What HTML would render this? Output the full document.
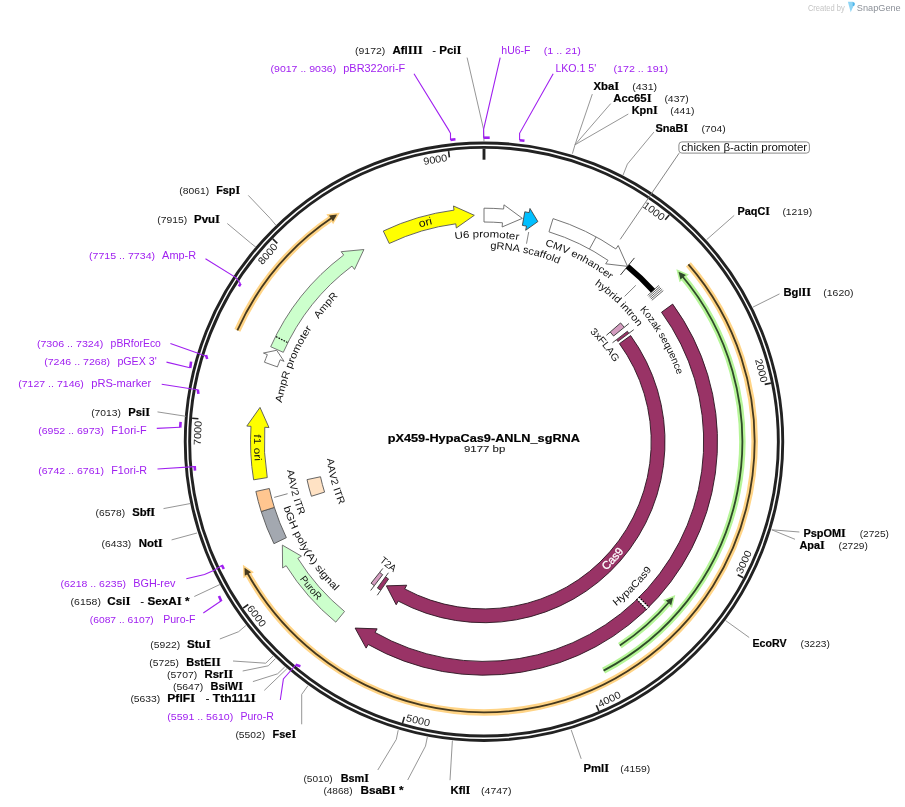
<!DOCTYPE html>
<html><head><meta charset="utf-8"><style>
html,body{margin:0;padding:0;background:#fff;}
svg{display:block;font-family:"Liberation Sans", sans-serif;will-change:transform;}
</style></head><body>
<svg width="905" height="807" viewBox="0 0 905 807">
<defs></defs>
<path d="M237.35,330.39 A270.6,270.6 0 0 1 333.41,216.87" fill="none" stroke="#ffd486" stroke-width="6.5" stroke-linecap="butt"/>
<path d="M337.02,214.50 L328.99,215.52 L333.06,221.46 Z" fill="#ffd486" stroke="#ffd486" stroke-width="3" stroke-linejoin="miter"/>
<path d="M237.35,330.39 A270.6,270.6 0 0 1 333.41,216.87" fill="none" stroke="#45391f" stroke-width="1.8"/>
<path d="M337.02,214.50 L328.99,215.52 L333.06,221.46 Z" fill="#45391f"/>
<path d="M688.40,264.38 A270.6,270.6 0 1 1 246.54,571.46" fill="none" stroke="#ffd486" stroke-width="6.5" stroke-linecap="butt"/>
<path d="M244.50,567.65 L244.79,575.74 L251.07,572.22 Z" fill="#ffd486" stroke="#ffd486" stroke-width="3" stroke-linejoin="miter"/>
<path d="M688.40,264.38 A270.6,270.6 0 1 1 246.54,571.46" fill="none" stroke="#45391f" stroke-width="1.8"/>
<path d="M244.50,567.65 L244.79,575.74 L251.07,572.22 Z" fill="#45391f"/>
<path d="M681.33,275.02 A258.3,258.3 0 0 1 603.58,670.65" fill="none" stroke="#b6f598" stroke-width="6.5" stroke-linecap="butt"/>
<path d="M678.51,271.75 L685.95,274.94 L680.40,279.53 Z" fill="#b6f598" stroke="#b6f598" stroke-width="3" stroke-linejoin="miter"/>
<path d="M681.33,275.02 A258.3,258.3 0 0 1 603.58,670.65" fill="none" stroke="#2f4a2a" stroke-width="1.8"/>
<path d="M678.51,271.75 L685.95,274.94 L680.40,279.53 Z" fill="#2f4a2a"/>
<path d="M670.34,600.76 A245.0,245.0 0 0 1 619.82,645.61" fill="none" stroke="#b6f598" stroke-width="6.5" stroke-linecap="butt"/>
<path d="M673.12,597.45 L671.17,605.31 L665.75,600.57 Z" fill="#b6f598" stroke="#b6f598" stroke-width="3" stroke-linejoin="miter"/>
<path d="M670.34,600.76 A245.0,245.0 0 0 1 619.82,645.61" fill="none" stroke="#2f4a2a" stroke-width="1.8"/>
<path d="M673.12,597.45 L671.17,605.31 L665.75,600.57 Z" fill="#2f4a2a"/>
<circle cx="484.0" cy="441.7" r="298.75" fill="none" stroke="#222" stroke-width="2.9"/>
<circle cx="484.0" cy="441.7" r="294.35" fill="none" stroke="#222" stroke-width="2.9"/>
<line x1="484.00" y1="148.70" x2="484.00" y2="159.70" stroke="#222" stroke-width="2.9"/>
<line x1="669.17" y1="214.89" x2="665.19" y2="219.77" stroke="#222" stroke-width="1.6"/>
<text x="653.87" y="211.11" transform="rotate(36.38 653.87 211.11)" text-anchor="middle" dominant-baseline="central" font-size="10.2" textLength="24.2" lengthAdjust="spacingAndGlyphs" fill="#222">1000</text>
<line x1="770.88" y1="383.11" x2="764.71" y2="384.37" stroke="#222" stroke-width="1.6"/>
<text x="761.41" y="370.51" transform="rotate(75.61 761.41 370.51)" text-anchor="middle" dominant-baseline="central" font-size="10.2" textLength="24.2" lengthAdjust="spacingAndGlyphs" fill="#222">2000</text>
<line x1="743.28" y1="577.74" x2="737.70" y2="574.81" stroke="#222" stroke-width="1.6"/>
<text x="743.91" y="561.99" transform="rotate(-65.16 743.91 561.99)" text-anchor="middle" dominant-baseline="central" font-size="10.2" textLength="24.2" lengthAdjust="spacingAndGlyphs" fill="#222">3000</text>
<line x1="598.81" y1="711.05" x2="596.34" y2="705.26" stroke="#222" stroke-width="1.6"/>
<text x="609.26" y="699.25" transform="rotate(-25.94 609.26 699.25)" text-anchor="middle" dominant-baseline="central" font-size="10.2" textLength="24.2" lengthAdjust="spacingAndGlyphs" fill="#222">4000</text>
<line x1="402.59" y1="722.96" x2="404.35" y2="716.90" stroke="#222" stroke-width="1.6"/>
<text x="418.15" y="720.43" transform="rotate(13.29 418.15 720.43)" text-anchor="middle" dominant-baseline="central" font-size="10.2" textLength="24.2" lengthAdjust="spacingAndGlyphs" fill="#222">5000</text>
<line x1="243.07" y1="608.09" x2="248.25" y2="604.51" stroke="#222" stroke-width="1.6"/>
<text x="256.72" y="615.97" transform="rotate(52.52 256.72 615.97)" text-anchor="middle" dominant-baseline="central" font-size="10.2" textLength="24.2" lengthAdjust="spacingAndGlyphs" fill="#222">6000</text>
<line x1="192.14" y1="418.22" x2="198.42" y2="418.73" stroke="#222" stroke-width="1.6"/>
<text x="197.73" y="432.96" transform="rotate(-88.25 197.73 432.96)" text-anchor="middle" dominant-baseline="central" font-size="10.2" textLength="24.2" lengthAdjust="spacingAndGlyphs" fill="#222">7000</text>
<line x1="272.77" y1="238.94" x2="277.31" y2="243.30" stroke="#222" stroke-width="1.6"/>
<text x="267.78" y="253.89" transform="rotate(-49.02 267.78 253.89)" text-anchor="middle" dominant-baseline="central" font-size="10.2" textLength="24.2" lengthAdjust="spacingAndGlyphs" fill="#222">8000</text>
<line x1="448.60" y1="151.05" x2="449.37" y2="157.30" stroke="#222" stroke-width="1.6"/>
<text x="435.28" y="159.47" transform="rotate(-9.79 435.28 159.47)" text-anchor="middle" dominant-baseline="central" font-size="10.2" textLength="24.2" lengthAdjust="spacingAndGlyphs" fill="#222">9000</text>
<path d="M383.29,231.03 A233.5,233.5 0 0 1 454.00,210.13 L453.47,205.97 L474.31,215.31 L456.32,227.99 L455.78,223.82 A219.7,219.7 0 0 0 389.24,243.48 Z" fill="#ffff00" stroke="#555" stroke-width="0.9" stroke-linejoin="miter"/>
<path d="M484.00,208.20 A233.5,233.5 0 0 1 503.62,209.03 L503.97,204.84 L522.37,218.37 L502.11,226.96 L502.46,222.78 A219.7,219.7 0 0 0 484.00,222.00 Z" fill="#ffffff" stroke="#666" stroke-width="0.9" stroke-linejoin="miter"/>
<path d="M524.79,211.79 A233.5,233.5 0 0 1 529.15,212.61 L529.97,208.49 L537.86,221.59 L525.67,230.27 L526.49,226.15 A219.7,219.7 0 0 0 522.38,225.38 Z" fill="#00bfff" stroke="#444" stroke-width="0.9" stroke-linejoin="miter"/>
<path d="M553.05,218.64 A233.5,233.5 0 0 1 615.82,248.97 L618.19,245.50 L627.52,266.35 L605.66,263.82 L608.03,260.36 A219.7,219.7 0 0 0 548.97,231.83 Z" fill="#ffffff" stroke="#666" stroke-width="0.9" stroke-linejoin="miter"/>
<line x1="596.13" y1="236.89" x2="589.51" y2="248.99" stroke="#666" stroke-width="0.9"/>
<path d="M627.52,266.35 A226.6,226.6 0 0 1 653.19,290.96" fill="none" stroke="#000" stroke-width="5.6"/>
<line x1="620.49" y1="274.94" x2="634.43" y2="257.91" stroke="#222" stroke-width="0.9"/>
<line x1="647.63" y1="295.40" x2="658.81" y2="285.40" stroke="#333" stroke-width="0.75"/>
<line x1="648.70" y1="296.60" x2="659.96" y2="286.68" stroke="#333" stroke-width="0.75"/>
<line x1="649.76" y1="297.81" x2="661.09" y2="287.98" stroke="#333" stroke-width="0.75"/>
<line x1="650.81" y1="299.03" x2="662.21" y2="289.28" stroke="#333" stroke-width="0.75"/>
<line x1="651.85" y1="300.26" x2="663.32" y2="290.59" stroke="#333" stroke-width="0.75"/>
<path d="M672.67,304.12 A233.5,233.5 0 0 1 368.21,644.47 L366.12,648.11 L355.13,628.09 L377.13,628.84 L375.05,632.48 A219.7,219.7 0 0 0 661.52,312.25 Z" fill="#993366" stroke="#2a1520" stroke-width="0.9" stroke-linejoin="miter"/>
<line x1="637.99" y1="598.40" x2="647.66" y2="608.24" stroke="#fff" stroke-width="3.2"/>
<line x1="638.78" y1="596.91" x2="649.23" y2="607.39" stroke="#000" stroke-width="1.3" stroke-dasharray="1.6,1.2"/>
<line x1="636.49" y1="599.17" x2="646.78" y2="609.80" stroke="#000" stroke-width="1.3" stroke-dasharray="1.6,1.2"/>
<path d="M335.79,622.13 A233.5,233.5 0 0 1 286.15,565.71 L282.60,567.95 L282.37,545.10 L301.41,556.15 L297.85,558.39 A219.7,219.7 0 0 0 344.55,611.47 Z" fill="#ccffcc" stroke="#666" stroke-width="0.9" stroke-linejoin="miter"/>
<path d="M273.95,543.69 A233.5,233.5 0 0 1 261.18,511.53 L274.35,507.40 A219.7,219.7 0 0 0 286.37,537.67 Z" fill="#a3a8b0" stroke="#555" stroke-width="0.9" stroke-linejoin="miter"/>
<path d="M261.18,511.53 A233.5,233.5 0 0 1 255.86,491.44 L269.34,488.50 A219.7,219.7 0 0 0 274.35,507.40 Z" fill="#ffc690" stroke="#555" stroke-width="0.9" stroke-linejoin="miter"/>
<path d="M253.64,479.84 A233.5,233.5 0 0 1 251.01,426.35 L246.81,426.07 L260.01,407.42 L268.97,427.53 L264.78,427.26 A219.7,219.7 0 0 0 267.25,477.58 Z" fill="#ffff00" stroke="#555" stroke-width="0.9" stroke-linejoin="miter"/>
<path d="M264.44,362.22 A233.5,233.5 0 0 1 267.35,354.61 L263.45,353.04 L276.67,350.26 L284.05,361.32 L280.15,359.75 A219.7,219.7 0 0 0 277.42,366.92 Z" fill="#ffffff" stroke="#666" stroke-width="0.9" stroke-linejoin="miter"/>
<path d="M270.69,346.73 A233.5,233.5 0 0 1 343.70,255.05 L341.18,251.69 L363.92,249.53 L354.52,269.44 L351.99,266.08 A219.7,219.7 0 0 0 283.29,352.34 Z" fill="#ccffcc" stroke="#666" stroke-width="0.9" stroke-linejoin="miter"/>
<line x1="287.45" y1="342.42" x2="276.03" y2="336.65" stroke="#111" stroke-width="1.2" stroke-dasharray="1.6,1.2"/>
<path d="M620.60,322.95 A181.0,181.0 0 0 1 624.26,327.30 L613.57,336.02 A167.2,167.2 0 0 0 610.19,332.01 Z" fill="#d49cbf" stroke="#333" stroke-width="0.9" stroke-linejoin="miter"/>
<path d="M627.40,331.26 A181.0,181.0 0 0 1 628.93,333.28 L617.88,341.54 A167.2,167.2 0 0 0 616.47,339.68 Z" fill="#993366" stroke="#333" stroke-width="0.9" stroke-linejoin="miter"/>
<line x1="624.26" y1="327.30" x2="628.91" y2="323.51" stroke="#333" stroke-width="0.9"/>
<line x1="606.41" y1="335.29" x2="610.19" y2="332.01" stroke="#333" stroke-width="0.9"/>
<line x1="628.93" y1="333.28" x2="633.74" y2="329.68" stroke="#333" stroke-width="0.9"/>
<line x1="612.51" y1="342.73" x2="616.47" y2="339.68" stroke="#333" stroke-width="0.9"/>
<path d="M630.62,335.57 A181.0,181.0 0 0 1 398.19,601.07 L396.20,604.76 L386.39,585.87 L406.72,585.22 L404.73,588.92 A167.2,167.2 0 0 0 619.44,343.66 Z" fill="#993366" stroke="#2a1520" stroke-width="0.9" stroke-linejoin="miter"/>
<path d="M380.70,590.33 A181.0,181.0 0 0 1 377.36,587.95 L385.49,576.80 A167.2,167.2 0 0 0 388.58,579.00 Z" fill="#993366" stroke="#333" stroke-width="0.9" stroke-linejoin="miter"/>
<path d="M374.32,585.68 A181.0,181.0 0 0 1 371.08,583.16 L379.69,572.37 A167.2,167.2 0 0 0 382.68,574.70 Z" fill="#d49cbf" stroke="#333" stroke-width="0.9" stroke-linejoin="miter"/>
<line x1="380.70" y1="590.33" x2="377.28" y2="595.25" stroke="#333" stroke-width="0.9"/>
<line x1="388.43" y1="572.76" x2="385.49" y2="576.80" stroke="#333" stroke-width="0.9"/>
<line x1="374.32" y1="585.68" x2="370.68" y2="590.45" stroke="#333" stroke-width="0.9"/>
<line x1="382.81" y1="568.46" x2="379.69" y2="572.37" stroke="#333" stroke-width="0.9"/>
<path d="M311.42,496.28 A181.0,181.0 0 0 1 307.02,479.64 L320.51,476.75 A167.2,167.2 0 0 0 324.58,492.12 Z" fill="#ffe2c4" stroke="#555" stroke-width="0.9" stroke-linejoin="miter"/>
<polyline points="467.10,57.60 483.60,129.40 484.00,142.00" fill="none" stroke="#8a8a8a" stroke-width="0.9"/>
<text x="355.00" y="53.90" font-size="9.5" font-weight="normal" fill="#222" text-anchor="start" textLength="30.30" lengthAdjust="spacingAndGlyphs">(9172)</text>
<text x="392.40" y="53.90" font-size="11.2" font-weight="bold" fill="#000" text-anchor="start" textLength="69.10" lengthAdjust="spacingAndGlyphs" stroke="#000" stroke-width="0.2">Afl<tspan font-family="Liberation Serif" font-size="110%">I</tspan><tspan font-family="Liberation Serif" font-size="110%">I</tspan><tspan font-family="Liberation Serif" font-size="110%">I</tspan>&#160;&#160;&#160;<tspan font-weight="normal" stroke-width="0">-</tspan>&#160;Pci<tspan font-family="Liberation Serif" font-size="110%">I</tspan></text>
<polyline points="248.30,195.40 270.40,218.60 275.90,225.20" fill="none" stroke="#8a8a8a" stroke-width="0.9"/>
<text x="179.30" y="194.30" font-size="9.5" font-weight="normal" fill="#222" text-anchor="start" textLength="29.90" lengthAdjust="spacingAndGlyphs">(8061)</text>
<text x="216.20" y="194.30" font-size="11.2" font-weight="bold" fill="#000" text-anchor="start" textLength="23.90" lengthAdjust="spacingAndGlyphs" stroke="#000" stroke-width="0.2">Fsp<tspan font-family="Liberation Serif" font-size="110%">I</tspan></text>
<polyline points="227.30,223.50 250.50,242.90 256.00,247.30" fill="none" stroke="#8a8a8a" stroke-width="0.9"/>
<text x="157.20" y="223.00" font-size="9.5" font-weight="normal" fill="#222" text-anchor="start" textLength="29.90" lengthAdjust="spacingAndGlyphs">(7915)</text>
<text x="194.10" y="223.00" font-size="11.2" font-weight="bold" fill="#000" text-anchor="start" textLength="25.90" lengthAdjust="spacingAndGlyphs" stroke="#000" stroke-width="0.2">Pvu<tspan font-family="Liberation Serif" font-size="110%">I</tspan></text>
<polyline points="157.50,411.90 186.00,416.30" fill="none" stroke="#8a8a8a" stroke-width="0.9"/>
<text x="91.20" y="416.30" font-size="9.5" font-weight="normal" fill="#222" text-anchor="start" textLength="29.80" lengthAdjust="spacingAndGlyphs">(7013)</text>
<text x="128.30" y="416.30" font-size="11.2" font-weight="bold" fill="#000" text-anchor="start" textLength="21.70" lengthAdjust="spacingAndGlyphs" stroke="#000" stroke-width="0.2">Psi<tspan font-family="Liberation Serif" font-size="110%">I</tspan></text>
<polyline points="163.50,508.60 190.00,503.60" fill="none" stroke="#8a8a8a" stroke-width="0.9"/>
<text x="95.60" y="516.20" font-size="9.5" font-weight="normal" fill="#222" text-anchor="start" textLength="29.50" lengthAdjust="spacingAndGlyphs">(6578)</text>
<text x="132.20" y="516.20" font-size="11.2" font-weight="bold" fill="#000" text-anchor="start" textLength="22.90" lengthAdjust="spacingAndGlyphs" stroke="#000" stroke-width="0.2">Sbf<tspan font-family="Liberation Serif" font-size="110%">I</tspan></text>
<polyline points="171.60,539.90 197.00,533.00" fill="none" stroke="#8a8a8a" stroke-width="0.9"/>
<text x="101.60" y="546.90" font-size="9.5" font-weight="normal" fill="#222" text-anchor="start" textLength="29.70" lengthAdjust="spacingAndGlyphs">(6433)</text>
<text x="138.70" y="546.90" font-size="11.2" font-weight="bold" fill="#000" text-anchor="start" textLength="24.00" lengthAdjust="spacingAndGlyphs" stroke="#000" stroke-width="0.2">Not<tspan font-family="Liberation Serif" font-size="110%">I</tspan></text>
<polyline points="194.30,596.50 220.30,584.30" fill="none" stroke="#8a8a8a" stroke-width="0.9"/>
<text x="70.60" y="605.00" font-size="9.5" font-weight="normal" fill="#222" text-anchor="start" textLength="30.30" lengthAdjust="spacingAndGlyphs">(6158)</text>
<text x="107.30" y="605.00" font-size="11.2" font-weight="bold" fill="#000" text-anchor="start" textLength="82.20" lengthAdjust="spacingAndGlyphs" stroke="#000" stroke-width="0.2">Csi<tspan font-family="Liberation Serif" font-size="110%">I</tspan>&#160;&#160;&#160;<tspan font-weight="normal" stroke-width="0">-</tspan>&#160;SexA<tspan font-family="Liberation Serif" font-size="110%">I</tspan> *</text>
<polyline points="219.80,639.00 238.60,631.70 245.80,625.60" fill="none" stroke="#8a8a8a" stroke-width="0.9"/>
<text x="150.30" y="647.50" font-size="9.5" font-weight="normal" fill="#222" text-anchor="start" textLength="29.90" lengthAdjust="spacingAndGlyphs">(5922)</text>
<text x="187.00" y="647.50" font-size="11.2" font-weight="bold" fill="#000" text-anchor="start" textLength="23.60" lengthAdjust="spacingAndGlyphs" stroke="#000" stroke-width="0.2">Stu<tspan font-family="Liberation Serif" font-size="110%">I</tspan></text>
<polyline points="233.00,661.00 265.70,663.20 273.20,655.90" fill="none" stroke="#8a8a8a" stroke-width="0.9"/>
<text x="149.30" y="665.70" font-size="9.5" font-weight="normal" fill="#222" text-anchor="start" textLength="29.70" lengthAdjust="spacingAndGlyphs">(5725)</text>
<text x="186.30" y="665.70" font-size="11.2" font-weight="bold" fill="#000" text-anchor="start" textLength="34.50" lengthAdjust="spacingAndGlyphs" stroke="#000" stroke-width="0.2">BstE<tspan font-family="Liberation Serif" font-size="110%">I</tspan><tspan font-family="Liberation Serif" font-size="110%">I</tspan></text>
<polyline points="242.70,671.00 268.30,665.80 275.40,658.60" fill="none" stroke="#8a8a8a" stroke-width="0.9"/>
<text x="167.10" y="677.90" font-size="9.5" font-weight="normal" fill="#222" text-anchor="start" textLength="30.10" lengthAdjust="spacingAndGlyphs">(5707)</text>
<text x="204.50" y="677.90" font-size="11.2" font-weight="bold" fill="#000" text-anchor="start" textLength="28.70" lengthAdjust="spacingAndGlyphs" stroke="#000" stroke-width="0.2">Rsr<tspan font-family="Liberation Serif" font-size="110%">I</tspan><tspan font-family="Liberation Serif" font-size="110%">I</tspan></text>
<polyline points="252.90,681.60 277.60,673.80 284.70,667.00" fill="none" stroke="#8a8a8a" stroke-width="0.9"/>
<text x="172.90" y="689.60" font-size="9.5" font-weight="normal" fill="#222" text-anchor="start" textLength="30.40" lengthAdjust="spacingAndGlyphs">(5647)</text>
<text x="210.60" y="689.60" font-size="11.2" font-weight="bold" fill="#000" text-anchor="start" textLength="32.30" lengthAdjust="spacingAndGlyphs" stroke="#000" stroke-width="0.2">BsiW<tspan font-family="Liberation Serif" font-size="110%">I</tspan></text>
<polyline points="264.30,690.40 286.90,668.70" fill="none" stroke="#8a8a8a" stroke-width="0.9"/>
<text x="130.40" y="701.50" font-size="9.5" font-weight="normal" fill="#222" text-anchor="start" textLength="29.90" lengthAdjust="spacingAndGlyphs">(5633)</text>
<text x="167.30" y="701.50" font-size="11.2" font-weight="bold" fill="#000" text-anchor="start" textLength="88.30" lengthAdjust="spacingAndGlyphs" stroke="#000" stroke-width="0.2">PflF<tspan font-family="Liberation Serif" font-size="110%">I</tspan>&#160;&#160;&#160;<tspan font-weight="normal" stroke-width="0">-</tspan>&#160;Tth111<tspan font-family="Liberation Serif" font-size="110%">I</tspan></text>
<polyline points="301.70,724.30 301.70,694.40 308.00,685.60" fill="none" stroke="#8a8a8a" stroke-width="0.9"/>
<text x="235.40" y="737.60" font-size="9.5" font-weight="normal" fill="#222" text-anchor="start" textLength="29.70" lengthAdjust="spacingAndGlyphs">(5502)</text>
<text x="272.50" y="737.60" font-size="11.2" font-weight="bold" fill="#000" text-anchor="start" textLength="23.60" lengthAdjust="spacingAndGlyphs" stroke="#000" stroke-width="0.2">Fse<tspan font-family="Liberation Serif" font-size="110%">I</tspan></text>
<polyline points="377.80,770.00 396.30,739.40 398.20,730.20" fill="none" stroke="#8a8a8a" stroke-width="0.9"/>
<text x="303.50" y="781.90" font-size="9.5" font-weight="normal" fill="#222" text-anchor="start" textLength="29.20" lengthAdjust="spacingAndGlyphs">(5010)</text>
<text x="340.70" y="781.90" font-size="11.2" font-weight="bold" fill="#000" text-anchor="start" textLength="28.30" lengthAdjust="spacingAndGlyphs" stroke="#000" stroke-width="0.2">Bsm<tspan font-family="Liberation Serif" font-size="110%">I</tspan></text>
<polyline points="407.70,780.00 425.50,746.10 427.40,736.80" fill="none" stroke="#8a8a8a" stroke-width="0.9"/>
<text x="323.40" y="793.80" font-size="9.5" font-weight="normal" fill="#222" text-anchor="start" textLength="29.20" lengthAdjust="spacingAndGlyphs">(4868)</text>
<text x="360.50" y="793.80" font-size="11.2" font-weight="bold" fill="#000" text-anchor="start" textLength="43.00" lengthAdjust="spacingAndGlyphs" stroke="#000" stroke-width="0.2">BsaB<tspan font-family="Liberation Serif" font-size="110%">I</tspan> *</text>
<polyline points="592.30,94.10 575.00,144.80 572.40,153.70" fill="none" stroke="#8a8a8a" stroke-width="0.9"/>
<text x="632.30" y="89.70" font-size="9.5" font-weight="normal" fill="#222" text-anchor="start" textLength="24.80" lengthAdjust="spacingAndGlyphs">(431)</text>
<text x="593.40" y="89.70" font-size="11.2" font-weight="bold" fill="#000" text-anchor="start" textLength="25.70" lengthAdjust="spacingAndGlyphs" stroke="#000" stroke-width="0.2">Xba<tspan font-family="Liberation Serif" font-size="110%">I</tspan></text>
<polyline points="610.70,103.60 575.00,144.80" fill="none" stroke="#8a8a8a" stroke-width="0.9"/>
<text x="664.40" y="101.80" font-size="9.5" font-weight="normal" fill="#222" text-anchor="start" textLength="24.30" lengthAdjust="spacingAndGlyphs">(437)</text>
<text x="613.30" y="101.80" font-size="11.2" font-weight="bold" fill="#000" text-anchor="start" textLength="38.20" lengthAdjust="spacingAndGlyphs" stroke="#000" stroke-width="0.2">Acc65<tspan font-family="Liberation Serif" font-size="110%">I</tspan></text>
<polyline points="628.30,114.00 575.00,144.80" fill="none" stroke="#8a8a8a" stroke-width="0.9"/>
<text x="670.30" y="114.00" font-size="9.5" font-weight="normal" fill="#222" text-anchor="start" textLength="24.30" lengthAdjust="spacingAndGlyphs">(441)</text>
<text x="631.70" y="114.00" font-size="11.2" font-weight="bold" fill="#000" text-anchor="start" textLength="26.00" lengthAdjust="spacingAndGlyphs" stroke="#000" stroke-width="0.2">Kpn<tspan font-family="Liberation Serif" font-size="110%">I</tspan></text>
<polyline points="653.90,132.10 627.40,164.10 623.00,175.20" fill="none" stroke="#8a8a8a" stroke-width="0.9"/>
<text x="701.40" y="132.10" font-size="9.5" font-weight="normal" fill="#222" text-anchor="start" textLength="24.30" lengthAdjust="spacingAndGlyphs">(704)</text>
<text x="655.50" y="132.10" font-size="11.2" font-weight="bold" fill="#000" text-anchor="start" textLength="32.70" lengthAdjust="spacingAndGlyphs" stroke="#000" stroke-width="0.2">SnaB<tspan font-family="Liberation Serif" font-size="110%">I</tspan></text>
<polyline points="734.20,215.40 706.60,239.70" fill="none" stroke="#8a8a8a" stroke-width="0.9"/>
<text x="782.40" y="215.00" font-size="9.5" font-weight="normal" fill="#222" text-anchor="start" textLength="29.80" lengthAdjust="spacingAndGlyphs">(1219)</text>
<text x="737.50" y="215.00" font-size="11.2" font-weight="bold" fill="#000" text-anchor="start" textLength="32.50" lengthAdjust="spacingAndGlyphs" stroke="#000" stroke-width="0.2">PaqC<tspan font-family="Liberation Serif" font-size="110%">I</tspan></text>
<polyline points="779.50,293.90 753.00,307.10" fill="none" stroke="#8a8a8a" stroke-width="0.9"/>
<text x="823.30" y="296.10" font-size="9.5" font-weight="normal" fill="#222" text-anchor="start" textLength="30.20" lengthAdjust="spacingAndGlyphs">(1620)</text>
<text x="783.50" y="296.10" font-size="11.2" font-weight="bold" fill="#000" text-anchor="start" textLength="27.60" lengthAdjust="spacingAndGlyphs" stroke="#000" stroke-width="0.2">Bgl<tspan font-family="Liberation Serif" font-size="110%">I</tspan><tspan font-family="Liberation Serif" font-size="110%">I</tspan></text>
<polyline points="799.40,532.00 771.80,529.80" fill="none" stroke="#8a8a8a" stroke-width="0.9"/>
<text x="859.70" y="536.50" font-size="9.5" font-weight="normal" fill="#222" text-anchor="start" textLength="29.20" lengthAdjust="spacingAndGlyphs">(2725)</text>
<text x="803.40" y="536.50" font-size="11.2" font-weight="bold" fill="#000" text-anchor="start" textLength="42.40" lengthAdjust="spacingAndGlyphs" stroke="#000" stroke-width="0.2">PspOM<tspan font-family="Liberation Serif" font-size="110%">I</tspan></text>
<polyline points="795.00,539.30 771.80,529.80" fill="none" stroke="#8a8a8a" stroke-width="0.9"/>
<text x="838.50" y="548.60" font-size="9.5" font-weight="normal" fill="#222" text-anchor="start" textLength="29.40" lengthAdjust="spacingAndGlyphs">(2729)</text>
<text x="799.40" y="548.60" font-size="11.2" font-weight="bold" fill="#000" text-anchor="start" textLength="25.40" lengthAdjust="spacingAndGlyphs" stroke="#000" stroke-width="0.2">Apa<tspan font-family="Liberation Serif" font-size="110%">I</tspan></text>
<polyline points="749.20,637.50 725.40,620.40" fill="none" stroke="#8a8a8a" stroke-width="0.9"/>
<text x="800.50" y="647.00" font-size="9.5" font-weight="normal" fill="#222" text-anchor="start" textLength="29.40" lengthAdjust="spacingAndGlyphs">(3223)</text>
<text x="752.50" y="647.00" font-size="11.2" font-weight="bold" fill="#000" text-anchor="start" textLength="34.10" lengthAdjust="spacingAndGlyphs" stroke="#000" stroke-width="0.2">EcoRV</text>
<polyline points="581.20,758.80 571.20,729.90" fill="none" stroke="#8a8a8a" stroke-width="0.9"/>
<text x="620.20" y="772.00" font-size="9.5" font-weight="normal" fill="#222" text-anchor="start" textLength="30.00" lengthAdjust="spacingAndGlyphs">(4159)</text>
<text x="583.60" y="772.00" font-size="11.2" font-weight="bold" fill="#000" text-anchor="start" textLength="25.50" lengthAdjust="spacingAndGlyphs" stroke="#000" stroke-width="0.2">Pml<tspan font-family="Liberation Serif" font-size="110%">I</tspan></text>
<polyline points="450.00,780.20 452.40,740.50" fill="none" stroke="#8a8a8a" stroke-width="0.9"/>
<text x="481.00" y="794.00" font-size="9.5" font-weight="normal" fill="#222" text-anchor="start" textLength="30.50" lengthAdjust="spacingAndGlyphs">(4747)</text>
<text x="450.50" y="794.00" font-size="11.2" font-weight="bold" fill="#000" text-anchor="start" textLength="19.90" lengthAdjust="spacingAndGlyphs" stroke="#000" stroke-width="0.2">Kfl<tspan font-family="Liberation Serif" font-size="110%">I</tspan></text>
<polyline points="414.00,73.80 448.30,129.40 450.50,133.30 450.50,139.90" fill="none" stroke="#a020f0" stroke-width="1.1"/>
<polyline points="450.50,139.90 455.50,139.30" fill="none" stroke="#a020f0" stroke-width="2.6"/>
<text x="270.50" y="71.50" font-size="9.5" font-weight="normal" fill="#a020f0" text-anchor="start" textLength="65.70" lengthAdjust="spacingAndGlyphs">(9017 .. 9036)</text>
<text x="343.30" y="71.50" font-size="11.0" font-weight="normal" fill="#a020f0" text-anchor="start" textLength="61.90" lengthAdjust="spacingAndGlyphs">pBR322ori-F</text>
<polyline points="205.50,258.80 235.90,277.60 240.60,283.60" fill="none" stroke="#a020f0" stroke-width="1.1"/>
<polyline points="240.60,283.60 238.90,286.40" fill="none" stroke="#a020f0" stroke-width="2.6"/>
<text x="89.00" y="259.20" font-size="9.5" font-weight="normal" fill="#a020f0" text-anchor="start" textLength="66.10" lengthAdjust="spacingAndGlyphs">(7715 .. 7734)</text>
<text x="162.10" y="259.20" font-size="11.0" font-weight="normal" fill="#a020f0" text-anchor="start" textLength="34.00" lengthAdjust="spacingAndGlyphs">Amp-R</text>
<polyline points="170.40,343.40 197.30,353.00 206.00,356.20" fill="none" stroke="#a020f0" stroke-width="1.1"/>
<polyline points="206.00,355.00 207.20,359.00" fill="none" stroke="#a020f0" stroke-width="2.6"/>
<text x="36.90" y="347.00" font-size="9.5" font-weight="normal" fill="#a020f0" text-anchor="start" textLength="66.40" lengthAdjust="spacingAndGlyphs">(7306 .. 7324)</text>
<text x="110.60" y="347.00" font-size="11.0" font-weight="normal" fill="#a020f0" text-anchor="start" textLength="50.30" lengthAdjust="spacingAndGlyphs">pBRforEco</text>
<polyline points="166.50,362.10 189.90,367.70" fill="none" stroke="#a020f0" stroke-width="1.1"/>
<polyline points="190.20,368.00 191.10,361.60" fill="none" stroke="#a020f0" stroke-width="2.6"/>
<text x="44.20" y="365.20" font-size="9.5" font-weight="normal" fill="#a020f0" text-anchor="start" textLength="65.90" lengthAdjust="spacingAndGlyphs">(7246 .. 7268)</text>
<text x="117.40" y="365.20" font-size="11.0" font-weight="normal" fill="#a020f0" text-anchor="start" textLength="39.40" lengthAdjust="spacingAndGlyphs">pGEX 3'</text>
<polyline points="161.70,384.20 189.00,388.50 197.80,389.80" fill="none" stroke="#a020f0" stroke-width="1.1"/>
<polyline points="197.80,389.60 198.40,393.90" fill="none" stroke="#a020f0" stroke-width="2.6"/>
<text x="18.20" y="387.10" font-size="9.5" font-weight="normal" fill="#a020f0" text-anchor="start" textLength="65.70" lengthAdjust="spacingAndGlyphs">(7127 .. 7146)</text>
<text x="91.20" y="387.10" font-size="11.0" font-weight="normal" fill="#a020f0" text-anchor="start" textLength="60.00" lengthAdjust="spacingAndGlyphs">pRS-marker</text>
<polyline points="156.80,428.40 179.90,427.20" fill="none" stroke="#a020f0" stroke-width="1.1"/>
<polyline points="180.20,427.60 180.60,421.80" fill="none" stroke="#a020f0" stroke-width="2.6"/>
<text x="38.20" y="434.00" font-size="9.5" font-weight="normal" fill="#a020f0" text-anchor="start" textLength="65.80" lengthAdjust="spacingAndGlyphs">(6952 .. 6973)</text>
<text x="111.30" y="434.00" font-size="11.0" font-weight="normal" fill="#a020f0" text-anchor="start" textLength="35.30" lengthAdjust="spacingAndGlyphs">F1ori-F</text>
<polyline points="157.50,469.00 194.70,466.60" fill="none" stroke="#a020f0" stroke-width="1.1"/>
<polyline points="194.70,466.00 195.00,470.60" fill="none" stroke="#a020f0" stroke-width="2.6"/>
<text x="38.20" y="473.90" font-size="9.5" font-weight="normal" fill="#a020f0" text-anchor="start" textLength="65.80" lengthAdjust="spacingAndGlyphs">(6742 .. 6761)</text>
<text x="111.30" y="473.90" font-size="11.0" font-weight="normal" fill="#a020f0" text-anchor="start" textLength="35.80" lengthAdjust="spacingAndGlyphs">F1ori-R</text>
<polyline points="186.30,578.70 204.50,574.60 214.20,570.20 221.80,565.50" fill="none" stroke="#a020f0" stroke-width="1.1"/>
<polyline points="221.80,565.00 223.80,569.00" fill="none" stroke="#a020f0" stroke-width="2.6"/>
<text x="60.50" y="586.70" font-size="9.5" font-weight="normal" fill="#a020f0" text-anchor="start" textLength="65.50" lengthAdjust="spacingAndGlyphs">(6218 .. 6235)</text>
<text x="133.30" y="586.70" font-size="11.0" font-weight="normal" fill="#a020f0" text-anchor="start" textLength="42.10" lengthAdjust="spacingAndGlyphs">BGH-rev</text>
<polyline points="203.30,613.00 221.30,600.80" fill="none" stroke="#a020f0" stroke-width="1.1"/>
<polyline points="221.30,601.20 219.00,596.00" fill="none" stroke="#a020f0" stroke-width="2.6"/>
<text x="89.80" y="622.70" font-size="9.5" font-weight="normal" fill="#a020f0" text-anchor="start" textLength="64.00" lengthAdjust="spacingAndGlyphs">(6087 .. 6107)</text>
<text x="163.20" y="622.70" font-size="11.0" font-weight="normal" fill="#a020f0" text-anchor="start" textLength="32.30" lengthAdjust="spacingAndGlyphs">Puro-F</text>
<polyline points="280.30,700.00 283.40,678.90 290.40,671.00 295.70,664.80" fill="none" stroke="#a020f0" stroke-width="1.1"/>
<polyline points="295.70,664.80 300.40,666.20" fill="none" stroke="#a020f0" stroke-width="2.6"/>
<text x="167.30" y="720.00" font-size="9.5" font-weight="normal" fill="#a020f0" text-anchor="start" textLength="65.90" lengthAdjust="spacingAndGlyphs">(5591 .. 5610)</text>
<text x="240.50" y="720.00" font-size="11.0" font-weight="normal" fill="#a020f0" text-anchor="start" textLength="33.30" lengthAdjust="spacingAndGlyphs">Puro-R</text>
<polyline points="500.20,57.60 483.60,129.40 483.60,137.70" fill="none" stroke="#a020f0" stroke-width="1.1"/>
<polyline points="483.60,137.70 489.70,137.70" fill="none" stroke="#a020f0" stroke-width="2.6"/>
<text x="543.70" y="53.90" font-size="9.5" font-weight="normal" fill="#a020f0" text-anchor="start" textLength="37.10" lengthAdjust="spacingAndGlyphs">(1 .. 21)</text>
<text x="501.30" y="53.90" font-size="11.0" font-weight="normal" fill="#a020f0" text-anchor="start" textLength="29.20" lengthAdjust="spacingAndGlyphs">hU6-F</text>
<polyline points="553.20,73.80 519.60,133.30 519.60,139.90" fill="none" stroke="#a020f0" stroke-width="1.1"/>
<polyline points="519.60,140.20 524.50,140.80" fill="none" stroke="#a020f0" stroke-width="2.6"/>
<text x="613.50" y="71.50" font-size="9.5" font-weight="normal" fill="#a020f0" text-anchor="start" textLength="54.60" lengthAdjust="spacingAndGlyphs">(172 .. 191)</text>
<text x="555.40" y="71.50" font-size="11.0" font-weight="normal" fill="#a020f0" text-anchor="start" textLength="40.90" lengthAdjust="spacingAndGlyphs">LKO.1 5'</text>
<g font-size="10.8" fill="#111" font-weight="normal"><text transform="translate(422.88,226.62) rotate(-15.86) scale(1.1248,1)" text-anchor="middle">o</text><text transform="translate(428.09,225.20) rotate(-14.48) scale(1.1248,1)" text-anchor="middle">r</text><text transform="translate(431.36,224.38) rotate(-13.62) scale(1.1248,1)" text-anchor="middle">i</text></g>
<g font-size="10.0" fill="#111" font-weight="normal"><text transform="translate(459.08,238.72) rotate(-7.00) scale(1.1516,1)" text-anchor="middle">U</text><text transform="translate(466.40,237.96) rotate(-4.94) scale(1.1516,1)" text-anchor="middle">6</text><text transform="translate(475.98,237.36) rotate(-2.25) scale(1.1516,1)" text-anchor="middle">p</text><text transform="translate(481.10,237.22) rotate(-0.81) scale(1.1516,1)" text-anchor="middle">r</text><text transform="translate(486.22,237.21) rotate(0.62) scale(1.1516,1)" text-anchor="middle">o</text><text transform="translate(494.21,237.46) rotate(2.86) scale(1.1516,1)" text-anchor="middle">m</text><text transform="translate(502.19,238.01) rotate(5.10) scale(1.1516,1)" text-anchor="middle">o</text><text transform="translate(506.97,238.49) rotate(6.45) scale(1.1516,1)" text-anchor="middle">t</text><text transform="translate(511.73,239.09) rotate(7.79) scale(1.1516,1)" text-anchor="middle">e</text><text transform="translate(516.80,239.85) rotate(9.23) scale(1.1516,1)" text-anchor="middle">r</text></g>
<g font-size="10.0" fill="#111" font-weight="normal"><text transform="translate(493.25,248.92) rotate(2.75) scale(1.1030,1)" text-anchor="middle">g</text><text transform="translate(500.28,249.39) rotate(4.84) scale(1.1030,1)" text-anchor="middle">R</text><text transform="translate(508.20,250.22) rotate(7.20) scale(1.1030,1)" text-anchor="middle">N</text><text transform="translate(515.78,251.33) rotate(9.48) scale(1.1030,1)" text-anchor="middle">A</text><text transform="translate(525.11,253.13) rotate(12.30) scale(1.1030,1)" text-anchor="middle">s</text><text transform="translate(530.48,254.38) rotate(13.94) scale(1.1030,1)" text-anchor="middle">c</text><text transform="translate(536.11,255.87) rotate(15.66) scale(1.1030,1)" text-anchor="middle">a</text><text transform="translate(540.53,257.16) rotate(17.03) scale(1.1030,1)" text-anchor="middle">f</text><text transform="translate(543.45,258.08) rotate(17.94) scale(1.1030,1)" text-anchor="middle">f</text><text transform="translate(547.81,259.55) rotate(19.31) scale(1.1030,1)" text-anchor="middle">o</text><text transform="translate(551.84,261.02) rotate(20.58) scale(1.1030,1)" text-anchor="middle">l</text><text transform="translate(555.84,262.57) rotate(21.85) scale(1.1030,1)" text-anchor="middle">d</text></g>
<g font-size="10.0" fill="#111" font-weight="normal"><text transform="translate(548.44,246.77) rotate(18.29) scale(1.1095,1)" text-anchor="middle">C</text><text transform="translate(556.57,249.65) rotate(20.70) scale(1.1095,1)" text-anchor="middle">M</text><text transform="translate(564.29,252.75) rotate(23.02) scale(1.1095,1)" text-anchor="middle">V</text><text transform="translate(573.27,256.83) rotate(25.78) scale(1.1095,1)" text-anchor="middle">e</text><text transform="translate(578.79,259.59) rotate(27.50) scale(1.1095,1)" text-anchor="middle">n</text><text transform="translate(584.22,262.52) rotate(29.22) scale(1.1095,1)" text-anchor="middle">h</text><text transform="translate(589.56,265.62) rotate(30.94) scale(1.1095,1)" text-anchor="middle">a</text><text transform="translate(594.80,268.87) rotate(32.66) scale(1.1095,1)" text-anchor="middle">n</text><text transform="translate(599.69,272.10) rotate(34.30) scale(1.1095,1)" text-anchor="middle">c</text><text transform="translate(604.48,275.47) rotate(35.93) scale(1.1095,1)" text-anchor="middle">e</text><text transform="translate(608.44,278.41) rotate(37.31) scale(1.1095,1)" text-anchor="middle">r</text></g>
<g font-size="10.0" fill="#111" font-weight="normal"><text transform="translate(596.90,286.40) rotate(36.02) scale(1.1085,1)" text-anchor="middle">h</text><text transform="translate(601.59,289.92) rotate(37.77) scale(1.1085,1)" text-anchor="middle">y</text><text transform="translate(606.16,293.57) rotate(39.51) scale(1.1085,1)" text-anchor="middle">b</text><text transform="translate(609.92,296.76) rotate(40.98) scale(1.1085,1)" text-anchor="middle">r</text><text transform="translate(612.23,298.79) rotate(41.90) scale(1.1085,1)" text-anchor="middle">i</text><text transform="translate(615.40,301.71) rotate(43.19) scale(1.1085,1)" text-anchor="middle">d</text><text transform="translate(620.70,306.87) rotate(45.39) scale(1.1085,1)" text-anchor="middle">i</text><text transform="translate(623.69,309.98) rotate(46.68) scale(1.1085,1)" text-anchor="middle">n</text><text transform="translate(626.82,313.38) rotate(48.06) scale(1.1085,1)" text-anchor="middle">t</text><text transform="translate(629.06,315.92) rotate(49.07) scale(1.1085,1)" text-anchor="middle">r</text><text transform="translate(632.24,319.68) rotate(50.54) scale(1.1085,1)" text-anchor="middle">o</text><text transform="translate(636.08,324.50) rotate(52.38) scale(1.1085,1)" text-anchor="middle">n</text></g>
<g font-size="10.0" fill="#111" font-weight="normal"><text transform="translate(641.99,312.18) rotate(50.66) scale(1.0224,1)" text-anchor="middle">K</text><text transform="translate(645.88,317.07) rotate(52.41) scale(1.0224,1)" text-anchor="middle">o</text><text transform="translate(649.12,321.39) rotate(53.92) scale(1.0224,1)" text-anchor="middle">z</text><text transform="translate(652.24,325.80) rotate(55.44) scale(1.0224,1)" text-anchor="middle">a</text><text transform="translate(655.25,330.29) rotate(56.95) scale(1.0224,1)" text-anchor="middle">k</text><text transform="translate(659.45,337.03) rotate(59.18) scale(1.0224,1)" text-anchor="middle">s</text><text transform="translate(662.16,341.71) rotate(60.70) scale(1.0224,1)" text-anchor="middle">e</text><text transform="translate(664.87,346.70) rotate(62.29) scale(1.0224,1)" text-anchor="middle">q</text><text transform="translate(667.44,351.77) rotate(63.89) scale(1.0224,1)" text-anchor="middle">u</text><text transform="translate(669.88,356.91) rotate(65.48) scale(1.0224,1)" text-anchor="middle">e</text><text transform="translate(672.16,362.12) rotate(67.08) scale(1.0224,1)" text-anchor="middle">n</text><text transform="translate(674.20,367.12) rotate(68.59) scale(1.0224,1)" text-anchor="middle">c</text><text transform="translate(676.11,372.17) rotate(70.10) scale(1.0224,1)" text-anchor="middle">e</text></g>
<g font-size="10.0" fill="#111" font-weight="normal"><text transform="translate(591.91,334.09) rotate(45.08) scale(1.0633,1)" text-anchor="middle">3</text><text transform="translate(595.80,338.14) rotate(47.19) scale(1.0633,1)" text-anchor="middle">x</text><text transform="translate(599.73,342.55) rotate(49.41) scale(1.0633,1)" text-anchor="middle">F</text><text transform="translate(603.67,347.34) rotate(51.74) scale(1.0633,1)" text-anchor="middle">L</text><text transform="translate(607.59,352.53) rotate(54.19) scale(1.0633,1)" text-anchor="middle">A</text><text transform="translate(611.92,358.87) rotate(57.08) scale(1.0633,1)" text-anchor="middle">G</text></g>
<g font-size="11.2" fill="#fff" font-weight="normal" stroke="#fff" stroke-width="0.3"><text transform="translate(609.18,567.97) rotate(-44.75) scale(1.0135,1)" text-anchor="middle">C</text><text transform="translate(614.22,562.76) rotate(-47.09) scale(1.0135,1)" text-anchor="middle">a</text><text transform="translate(618.23,558.30) rotate(-49.02) scale(1.0135,1)" text-anchor="middle">s</text><text transform="translate(622.08,553.71) rotate(-50.95) scale(1.0135,1)" text-anchor="middle">9</text></g>
<g font-size="10.0" fill="#111" font-weight="normal"><text transform="translate(619.20,603.70) rotate(-39.85) scale(1.0923,1)" text-anchor="middle">H</text><text transform="translate(624.25,599.34) rotate(-41.66) scale(1.0923,1)" text-anchor="middle">y</text><text transform="translate(628.51,595.45) rotate(-43.23) scale(1.0923,1)" text-anchor="middle">p</text><text transform="translate(632.87,591.22) rotate(-44.88) scale(1.0923,1)" text-anchor="middle">a</text><text transform="translate(637.74,586.22) rotate(-46.77) scale(1.0923,1)" text-anchor="middle">C</text><text transform="translate(642.44,581.05) rotate(-48.67) scale(1.0923,1)" text-anchor="middle">a</text><text transform="translate(646.19,576.67) rotate(-50.23) scale(1.0923,1)" text-anchor="middle">s</text><text transform="translate(649.81,572.19) rotate(-51.80) scale(1.0923,1)" text-anchor="middle">9</text></g>
<g font-size="10.0" fill="#111" font-weight="normal"><text transform="translate(381.45,563.21) rotate(40.16) scale(0.9815,1)" text-anchor="middle">T</text><text transform="translate(385.89,566.82) rotate(38.10) scale(0.9815,1)" text-anchor="middle">2</text><text transform="translate(390.69,570.44) rotate(35.94) scale(0.9815,1)" text-anchor="middle">A</text></g>
<g font-size="10.0" fill="#111" font-weight="normal"><text transform="translate(301.49,581.66) rotate(52.52) scale(0.9878,1)" text-anchor="middle">P</text><text transform="translate(305.23,586.41) rotate(51.01) scale(0.9878,1)" text-anchor="middle">u</text><text transform="translate(308.02,589.79) rotate(49.92) scale(0.9878,1)" text-anchor="middle">r</text><text transform="translate(310.88,593.13) rotate(48.82) scale(0.9878,1)" text-anchor="middle">o</text><text transform="translate(315.10,597.82) rotate(47.25) scale(0.9878,1)" text-anchor="middle">R</text></g>
<g font-size="10.0" fill="#111" font-weight="normal"><text transform="translate(284.49,510.39) rotate(71.00) scale(1.1844,1)" text-anchor="middle">b</text><text transform="translate(287.21,517.81) rotate(68.86) scale(1.1844,1)" text-anchor="middle">G</text><text transform="translate(290.58,526.03) rotate(66.44) scale(1.1844,1)" text-anchor="middle">H</text><text transform="translate(295.18,535.87) rotate(63.49) scale(1.1844,1)" text-anchor="middle">p</text><text transform="translate(298.21,541.71) rotate(61.71) scale(1.1844,1)" text-anchor="middle">o</text><text transform="translate(300.44,545.75) rotate(60.45) scale(1.1844,1)" text-anchor="middle">l</text><text transform="translate(302.58,549.45) rotate(59.29) scale(1.1844,1)" text-anchor="middle">y</text><text transform="translate(305.15,553.66) rotate(57.95) scale(1.1844,1)" text-anchor="middle">(</text><text transform="translate(308.37,558.63) rotate(56.35) scale(1.1844,1)" text-anchor="middle">A</text><text transform="translate(311.72,563.52) rotate(54.74) scale(1.1844,1)" text-anchor="middle">)</text><text transform="translate(316.59,570.14) rotate(52.50) scale(1.1844,1)" text-anchor="middle">s</text><text transform="translate(319.23,573.50) rotate(51.34) scale(1.1844,1)" text-anchor="middle">i</text><text transform="translate(322.15,577.07) rotate(50.09) scale(1.1844,1)" text-anchor="middle">g</text><text transform="translate(326.45,582.06) rotate(48.30) scale(1.1844,1)" text-anchor="middle">n</text><text transform="translate(330.91,586.91) rotate(46.51) scale(1.1844,1)" text-anchor="middle">a</text><text transform="translate(334.12,590.22) rotate(45.26) scale(1.1844,1)" text-anchor="middle">l</text></g>
<g font-size="10.0" fill="#111" font-weight="normal"><text transform="translate(287.59,473.68) rotate(80.75) scale(1.0572,1)" text-anchor="middle">A</text><text transform="translate(288.84,480.62) rotate(78.72) scale(1.0572,1)" text-anchor="middle">A</text><text transform="translate(290.34,487.51) rotate(76.69) scale(1.0572,1)" text-anchor="middle">V</text><text transform="translate(291.94,493.78) rotate(74.83) scale(1.0572,1)" text-anchor="middle">2</text><text transform="translate(293.99,500.83) rotate(72.71) scale(1.0572,1)" text-anchor="middle">I</text><text transform="translate(295.44,505.30) rotate(71.36) scale(1.0572,1)" text-anchor="middle">T</text><text transform="translate(297.81,511.93) rotate(69.33) scale(1.0572,1)" text-anchor="middle">R</text></g>
<g font-size="10.0" fill="#111" font-weight="normal"><text transform="translate(327.35,462.33) rotate(82.50) scale(1.0797,1)" text-anchor="middle">A</text><text transform="translate(328.46,469.45) rotate(79.89) scale(1.0797,1)" text-anchor="middle">A</text><text transform="translate(329.88,476.50) rotate(77.27) scale(1.0797,1)" text-anchor="middle">V</text><text transform="translate(331.47,482.91) rotate(74.88) scale(1.0797,1)" text-anchor="middle">2</text><text transform="translate(333.60,490.11) rotate(72.16) scale(1.0797,1)" text-anchor="middle">I</text><text transform="translate(335.14,494.65) rotate(70.42) scale(1.0797,1)" text-anchor="middle">T</text><text transform="translate(337.70,501.37) rotate(67.81) scale(1.0797,1)" text-anchor="middle">R</text></g>
<g font-size="10.0" fill="#111" font-weight="normal"><text transform="translate(254.07,436.00) rotate(91.42) scale(1.2055,1)" text-anchor="middle">f</text><text transform="translate(254.00,441.02) rotate(90.17) scale(1.2055,1)" text-anchor="middle">1</text><text transform="translate(254.19,451.07) rotate(87.66) scale(1.2055,1)" text-anchor="middle">o</text><text transform="translate(254.47,456.43) rotate(86.33) scale(1.2055,1)" text-anchor="middle">r</text><text transform="translate(254.71,459.76) rotate(85.50) scale(1.2055,1)" text-anchor="middle">i</text></g>
<g font-size="10.0" fill="#111" font-weight="normal"><text transform="translate(282.43,399.22) rotate(-78.10) scale(1.1477,1)" text-anchor="middle">A</text><text transform="translate(284.38,390.84) rotate(-75.71) scale(1.1477,1)" text-anchor="middle">m</text><text transform="translate(286.49,383.15) rotate(-73.49) scale(1.1477,1)" text-anchor="middle">p</text><text transform="translate(288.70,376.16) rotate(-71.45) scale(1.1477,1)" text-anchor="middle">R</text><text transform="translate(292.31,366.27) rotate(-68.52) scale(1.1477,1)" text-anchor="middle">p</text><text transform="translate(294.23,361.55) rotate(-67.10) scale(1.1477,1)" text-anchor="middle">r</text><text transform="translate(296.28,356.87) rotate(-65.68) scale(1.1477,1)" text-anchor="middle">o</text><text transform="translate(299.70,349.67) rotate(-63.47) scale(1.1477,1)" text-anchor="middle">m</text><text transform="translate(303.40,342.61) rotate(-61.25) scale(1.1477,1)" text-anchor="middle">o</text><text transform="translate(305.75,338.44) rotate(-59.92) scale(1.1477,1)" text-anchor="middle">t</text><text transform="translate(308.19,334.33) rotate(-58.59) scale(1.1477,1)" text-anchor="middle">e</text><text transform="translate(310.91,330.01) rotate(-57.17) scale(1.1477,1)" text-anchor="middle">r</text></g>
<g font-size="10.0" fill="#111" font-weight="normal"><text transform="translate(320.74,316.07) rotate(-52.42) scale(1.0798,1)" text-anchor="middle">A</text><text transform="translate(325.81,309.75) rotate(-50.17) scale(1.0798,1)" text-anchor="middle">m</text><text transform="translate(330.72,304.08) rotate(-48.08) scale(1.0798,1)" text-anchor="middle">p</text><text transform="translate(335.41,299.02) rotate(-46.16) scale(1.0798,1)" text-anchor="middle">R</text></g>
<polyline points="528.70,232.00 526.50,243.70" fill="none" stroke="#777" stroke-width="0.9"/>
<polyline points="624.60,296.40 635.80,285.30" fill="none" stroke="#777" stroke-width="0.9"/>
<polyline points="274.20,497.40 287.60,493.70" fill="none" stroke="#777" stroke-width="0.9"/>
<polyline points="679.10,153.20 620.20,239.40" fill="none" stroke="#777" stroke-width="0.9"/>
<rect x="678.9" y="141.9" width="130.5" height="11.2" rx="3" ry="3" fill="#fff" stroke="#8a8a8a" stroke-width="1"/>
<text x="681.30" y="150.70" font-size="10.6" font-weight="normal" fill="#111" text-anchor="start" textLength="125.90" lengthAdjust="spacingAndGlyphs">chicken &#946;-actin promoter</text>
<text x="387.70" y="441.70" font-size="11.2" font-weight="bold" fill="#000" text-anchor="start" textLength="192.30" lengthAdjust="spacingAndGlyphs" stroke="#000" stroke-width="0.2">pX459-HypaCas9-ANLN_sgRNA</text>
<text x="464.00" y="451.70" font-size="9.6" font-weight="normal" fill="#222" text-anchor="start" textLength="41.30" lengthAdjust="spacingAndGlyphs" stroke="#222" stroke-width="0.12">9177 bp</text>
<text x="807.90" y="10.90" font-size="8.4" font-weight="normal" fill="#c4c4c4" text-anchor="start" textLength="36.80" lengthAdjust="spacingAndGlyphs">Created by</text>
<path d="M847.9,1.8 L852.9,1.8 L852.9,7.2 L850.7,12.3 Z" fill="#8fd5f5"/>
<path d="M852.6,2.0 Q855.2,2.2 854.8,4.4 Q854.5,6.3 852.6,6.6 Z" fill="#4fb6ea"/>
<text x="856.80" y="10.70" font-size="8.6" font-weight="normal" fill="#8b9098" text-anchor="start" textLength="43.90" lengthAdjust="spacingAndGlyphs">SnapGene</text>
</svg></body></html>
